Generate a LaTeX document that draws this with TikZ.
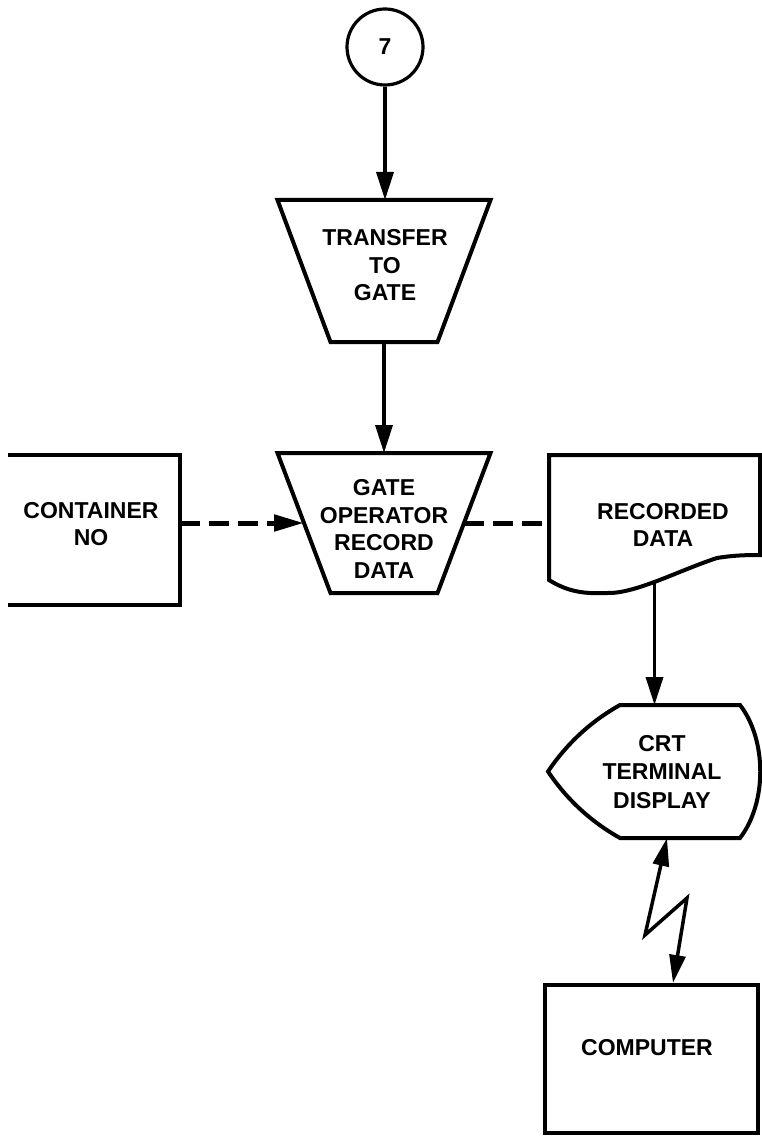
\documentclass[tikz,border=0pt]{standalone}
\usepackage{fontspec}
\setmainfont{Liberation Sans}
\usetikzlibrary{arrows.meta,calc}
\begin{document}
\begin{tikzpicture}[x=1pt,y=-1pt,
  outl/.style={line width=4pt},
  conn/.style={line width=3.5pt,-{Triangle[length=28pt,width=17pt]}},
  dconn/.style={line width=5pt,dash pattern=on 20pt off 9pt},
  lab/.style={font=\fontsize{23}{27.5}\selectfont\bfseries,align=center,inner sep=0pt},
  ghost/.style={inner sep=0pt,outer sep=0pt}
]
\useasboundingbox (0,0) rectangle (761,1139);

% connector circle
\node[circle,draw,line width=3.2pt,minimum size=76pt,inner sep=0pt,lab] (c7) at (385,47) {7};

% trapezoids (manual operations)
\node[ghost,minimum width=213pt,minimum height=142pt] (t1) at (384,271) {};
\draw[outl,line join=miter] (t1.north west) -- (t1.north east) -- ($(t1.south east)+(-53,0)$)
  -- ($(t1.south west)+(53,0)$) -- cycle;
\node[lab] (t1txt) at (385,265.5) {TRANSFER\\TO\\GATE};

\node[ghost,minimum width=213pt,minimum height=140pt] (t2) at (384,523) {};
\draw[outl,line join=miter] (t2.north west) -- (t2.north east) -- ($(t2.south east)+(-53,0)$)
  -- ($(t2.south west)+(53,0)$) -- cycle;
\node[lab] (t2txt) at (384,529) {GATE\\OPERATOR\\RECORD\\DATA};
\coordinate (t2w) at ($(t2.west)+(26.5,0)$);
\coordinate (t2e) at ($(t2.east)+(-26.5,0)$);

% container (open at left)
\node[ghost,minimum width=172pt,minimum height=150pt] (cn) at (94,530) {};
\draw[outl] (cn.north west) -- (cn.north east) -- (cn.south east) -- (cn.south west);
\node[lab] (cnlab) at (91,524) {CONTAINER\\NO};

% document
\node[ghost,minimum width=211pt,minimum height=125pt] (doc) at (654.5,517.5) {};
\draw[outl,line join=miter] (549,580) -- (549,455) -- (760,455) -- (760,555)
  .. controls (750,555) and (735,555) .. (717,558)
  .. controls (680,570) and (635,594) .. (607,593)
  .. controls (585,594) and (568,592) .. (549,580) -- cycle;
\node[lab] (doclab) at (663,525) {RECORDED\\DATA};

% CRT display
\node[ghost,minimum width=120pt,minimum height=133pt] (crt) at (680,771.5) {};
\draw[outl,line join=miter] (crt.north west) -- (crt.north east)
  .. controls (767,740) and (767,803) .. (crt.south east) -- (crt.south west)
  .. controls (590.5,821.5) and (566.5,799) .. (548,771.5)
  .. controls (566.5,744) and (590.5,721.5) .. (crt.north west) -- cycle;
\node[lab,font=\fontsize{23}{28.5}\selectfont\bfseries] (crtlab) at (662,772) {CRT\\TERMINAL\\DISPLAY};

% computer
\node[draw,outl,minimum width=213pt,minimum height=148pt,inner sep=0pt] (comp) at (651.5,1059) {};
\node[lab] (complab) at (647,1048) {COMPUTER};

% connectors
\draw[conn] (c7.south) -- (c7.south |- t1.north);
\draw[conn] (t1.south) -- (t1.south |- t2.north);
\draw[dconn,-{Triangle[length=30pt,width=16pt]}] (cn.east |- t2w) -- (t2w);
\draw[dconn] (t2e) -- (doc.west |- t2e);
\draw[conn] (doc.south) -- (doc.south |- crt.north);

\coordinate (z1) at (645,935);
\coordinate (z2) at (687,898);
\draw[line width=3.5pt,line join=miter,{Triangle[length=28pt,width=16pt]}-{Triangle[length=28pt,width=16pt]}]
  ([xshift=-13pt]crt.south) -- (z1) -- (z2) -- ([xshift=21.5pt]comp.north);
\end{tikzpicture}
\end{document}
